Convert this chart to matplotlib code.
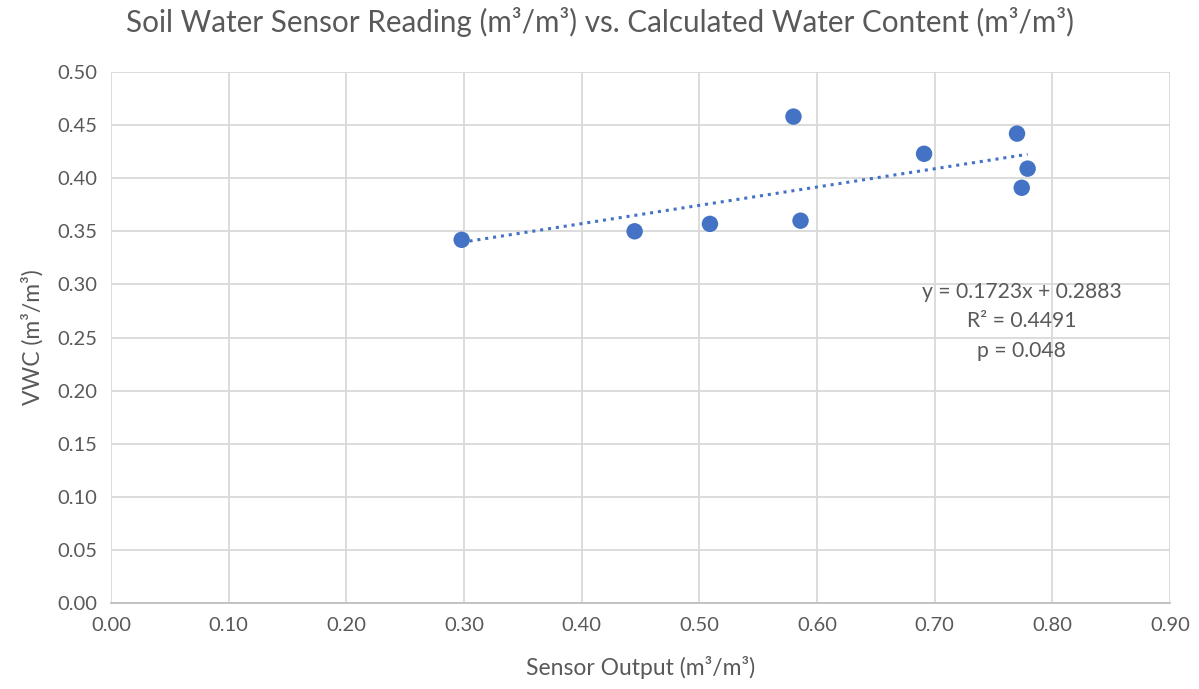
import numpy as np
import matplotlib
matplotlib.use('Agg')
from matplotlib import pyplot as plt

# Data
sensor_output = [0.298, 0.445, 0.509, 0.580, 0.586, 0.691, 0.770, 0.779, 0.774]
vwc = [0.342, 0.350, 0.357, 0.458, 0.360, 0.423, 0.442, 0.409, 0.391]
slope, intercept = 0.1723, 0.2883
fit_text = ['y = 0.1723x + 0.2883', 'R\u00b2 = 0.4491', 'p = 0.048']

x_ticks = np.arange(0, 0.91, 0.1)
y_ticks = np.arange(0, 0.51, 0.05)

blue = '#4472C4'
txt = '#595959'
grid_c = '#D9D9D9'

plt.rcParams['font.family'] = ['Lato', 'DejaVu Sans']

fig = plt.figure(figsize=(11.99, 6.89), dpi=100)
ax = fig.add_axes([0.0926, 0.1248, 0.8832, 0.7707])

ax.scatter(sensor_output, vwc, s=140, color=blue, zorder=3, edgecolors='none')

x_fit = np.array([min(sensor_output), max(sensor_output)])
ax.plot(x_fit, slope * x_fit + intercept, color=blue, linestyle=(0, (1, 1.6)),
        linewidth=2.2, zorder=2)

ax.set_xlim(0, 0.9)
ax.set_ylim(0, 0.5)
ax.set_xticks(x_ticks)
ax.set_yticks(y_ticks)
ax.set_xticklabels([f'{v:.2f}' for v in x_ticks])
ax.set_yticklabels([f'{v:.2f}' for v in y_ticks])
ax.tick_params(length=0, labelsize=14.5, labelcolor=txt, pad=10)
ax.grid(True, color=grid_c, linewidth=1.3, zorder=0)
ax.set_axisbelow(True)
for side in ('left', 'right', 'top'):
    ax.spines[side].set_visible(False)
ax.spines['bottom'].set_color('#BFBFBF')
ax.spines['bottom'].set_linewidth(1.3)

ax.set_xlabel('Sensor Output (m\u00b3/m\u00b3)', fontsize=16.5, color=txt, labelpad=16)
ax.set_ylabel('VWC (m\u00b3/m\u00b3)', fontsize=16.5, color=txt, labelpad=10)
fig.suptitle('Soil Water Sensor Reading (m\u00b3/m\u00b3) vs. Calculated Water Content (m\u00b3/m\u00b3)',
             fontsize=21.3, color=txt, y=0.99)

for i, line in enumerate(fit_text):
    ax.text(0.774, 0.293 - i * 0.0277, line, fontsize=15.2, color=txt,
            ha='center', va='center', transform=ax.transData, zorder=4)

fig.savefig('out.png', dpi=100)
